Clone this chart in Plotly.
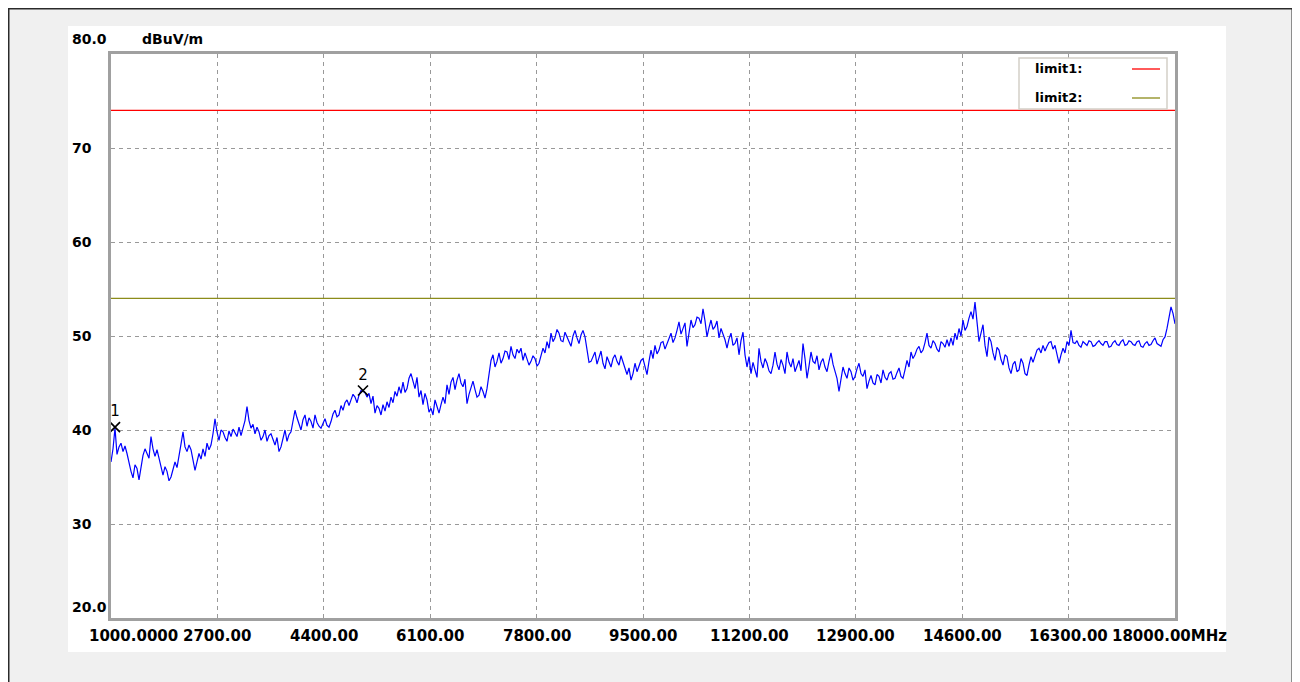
import plotly.graph_objects as go

# ---------------- data ----------------
F_START = 1000.0
F_STOP = 18000.0
level_dbuv = [
    # 1000 - ~4300 MHz
    36.6, 38.0, 40.2, 37.4, 38.2, 38.6, 37.7, 38.3, 37.5, 36.4,
    35.6, 34.9, 36.3, 35.9, 34.7, 36.0, 37.3, 38.0, 37.5, 37.0,
    39.3, 38.0, 37.2, 37.9, 37.0, 36.2, 35.2, 36.1, 35.6, 34.6,
    35.0, 35.8, 36.6, 36.0, 37.5, 38.5, 39.8, 38.2, 37.7, 38.4,
    37.9, 36.8, 35.7, 36.6, 37.5, 36.9, 38.0, 37.2, 38.6, 37.9,
    38.4, 39.6, 41.2, 39.8, 38.9, 40.0, 39.8, 39.2, 38.8, 39.9,
    39.3, 40.1, 39.6, 39.3, 40.3, 39.4, 40.2, 41.0, 42.5, 41.0,
    40.2, 40.6, 39.6, 40.3, 39.8, 38.9, 39.3, 40.0, 38.8, 39.4,
    39.6, 38.9, 38.4, 39.2, 37.7, 38.2, 39.1, 40.0, 38.8, 39.5,
    39.8, 41.0, 42.1, 41.3, 40.7, 40.0, 41.1, 41.6, 40.4, 41.3,
    40.9, 40.2, 41.6, 40.8, 40.4, 40.2,
    # ~4300 - ~7600 MHz
    40.7, 41.2, 40.5, 40.3, 40.9, 41.7, 42.1, 41.4, 41.6, 42.6,
    42.1, 42.9, 43.2, 42.6, 43.2, 43.8, 43.5, 42.9, 43.7, 44.2,
    44.1, 44.0, 43.5, 43.9, 42.8, 43.6, 41.8, 42.6, 42.3, 41.6,
    42.7, 42.0, 43.0, 42.4, 43.5, 42.9, 44.1, 43.6, 44.6, 43.9,
    45.1, 44.0, 44.4, 45.5, 46.0, 45.2, 44.4, 45.6, 43.5, 44.2,
    42.7, 43.9, 43.2, 41.9, 42.3, 41.6, 43.2, 42.5, 41.8, 42.7,
    43.5, 42.8, 44.8, 43.8, 45.1, 45.6, 44.3, 45.3, 46.0, 45.0,
    44.6, 45.4, 42.8, 43.8, 44.6, 45.2, 44.3, 43.5, 43.7, 44.6,
    44.1, 43.4, 44.4, 45.8, 47.4, 48.0, 46.7, 47.3, 48.2, 47.1,
    47.6, 48.4, 48.3, 47.5, 48.9, 48.0, 47.6, 48.6, 48.2, 48.7,
    47.4, 48.2,
    # ~7600 - ~11000 MHz
    47.6, 46.9, 47.3, 47.9, 47.6, 46.8, 47.1, 48.0, 48.7, 48.2,
    49.4, 48.7, 50.3, 49.4, 49.8, 50.7, 50.3, 49.5, 49.4, 50.4,
    49.9, 49.6, 48.9, 50.0, 50.6, 49.8, 49.2, 50.1, 50.6, 49.9,
    48.5, 47.2, 47.3, 47.9, 48.3, 47.0, 47.6, 48.4, 47.1, 46.5,
    47.8, 47.2, 46.7, 47.6, 48.0, 47.3, 46.9, 47.9, 47.3, 46.6,
    45.9, 46.6, 45.3, 46.0, 47.1, 46.2, 46.7, 47.4, 47.6, 46.8,
    45.9, 47.3, 48.5, 47.6, 49.0, 48.1, 48.5, 49.3, 49.4, 48.6,
    49.2, 49.9, 50.3, 49.3, 49.8, 50.6, 51.5, 50.2, 50.8, 51.4,
    48.9, 50.6, 51.7, 50.9, 51.2, 52.0, 51.9, 51.3, 52.9, 51.6,
    49.9, 50.9, 51.7, 50.7, 51.0, 51.6, 49.8, 50.8, 50.3, 49.6,
    48.7, 49.7, 50.3, 49.0, 49.2, 49.8, 48.0, 49.5,
    # ~11000 - ~14300 MHz
    50.4, 48.0, 46.7, 47.8, 46.0, 47.2, 46.4, 45.6, 48.7, 47.3,
    46.6, 47.6, 47.1, 46.3, 46.0, 46.9, 48.3, 47.0, 46.4, 47.5,
    46.9, 46.0, 48.3, 47.2, 46.7, 47.6, 46.2, 46.9, 47.4, 46.3,
    49.2, 47.6, 45.5, 46.8, 48.3, 47.3, 47.1, 47.9, 46.4, 47.2,
    47.6, 46.7, 46.2, 47.3, 48.2, 47.0, 46.2, 45.5, 44.1, 45.2,
    46.7, 46.0, 45.5, 46.6, 46.2, 45.3, 45.7, 46.5, 47.1, 46.0,
    45.7, 46.4, 44.4, 45.2, 45.8, 45.0, 44.8, 45.9, 45.7, 45.0,
    46.4, 45.6, 45.3, 46.0, 46.2, 45.4, 45.5, 46.1, 46.6, 45.7,
    45.5, 46.4, 47.4, 46.7, 48.3, 47.6, 48.0, 48.6, 48.9, 48.2,
    48.5, 49.3, 50.3, 49.0, 48.7, 49.5, 49.2, 48.6, 48.3, 49.4,
    49.2, 48.8, 49.6, 48.9,
    # ~14300 - 18000 MHz
    49.8, 49.0, 50.3, 49.6, 50.8, 50.0, 51.7, 50.6, 51.0, 51.9,
    52.6, 51.8, 53.6, 51.5, 49.4, 50.3, 51.2, 49.0, 47.8, 49.9,
    49.4, 48.2, 47.4, 48.8, 48.5, 47.5, 46.9, 48.0, 47.8, 46.6,
    46.0, 47.0, 47.3, 46.2, 46.4, 47.6, 47.1, 46.0, 45.8, 46.9,
    47.8, 47.2, 48.0, 48.5, 48.7, 48.2, 49.0, 48.4, 48.9, 49.3,
    49.4, 48.6, 49.0, 48.2, 47.1, 48.0, 48.7, 48.2, 49.4, 49.0,
    50.6, 49.3, 49.2, 49.5, 49.0, 48.8, 49.4, 49.2, 49.0, 49.5,
    49.4, 48.9, 49.0, 49.3, 49.5, 49.2, 49.0, 49.4, 49.4, 48.8,
    48.9, 49.3, 49.5, 49.1, 49.0, 49.4, 49.6, 49.0, 49.1, 49.5,
    49.4, 49.1, 49.0, 49.4, 49.5, 48.9, 48.8, 49.2, 49.4, 49.0,
    49.1, 49.5, 49.8, 49.2, 49.0, 48.9, 49.6, 49.9, 50.8, 52.2,
    53.1, 52.4, 51.3,
]
N_PTS = len(level_dbuv)
STEP = (F_STOP - F_START) / (N_PTS - 1)
freq_mhz = [F_START + k * STEP for k in range(N_PTS)]

limit1_db = 74.0
limit2_db = 54.0

marker_freq = [1064.0, 5026.0]
marker_level = [40.3, 44.2]
marker_text = ["1", "2"]

x_tick_vals = [1000, 2700, 4400, 6100, 7800, 9500, 11200, 12900, 14600, 16300, 18000]
x_tick_text = ["1000.0000", "2700.00", "4400.00", "6100.00", "7800.00", "9500.00",
               "11200.00", "12900.00", "14600.00", "16300.00", "18000.00MHz"]
y_tick_vals = [80, 70, 60, 50, 40, 30, 20]
y_tick_text = ["80.0", "70", "60", "50", "40", "30", "20.0"]
y_unit = "dBuV/m"
legend_names = ["limit1:", "limit2:"]

# ---------------- geometry (page pixels; figure div starts at page (8, 8)) ----------------
OFF = 8
FW, FH = 1286, 674
L, R, T, B = 111, 1175, 54, 618          # plot area in page pixels
PW, PH = R - L, B - T


def px(x):
    return (x - L) / PW


def py(y):
    return (B - y) / PH


FONT = "DejaVu Sans"
fig = go.Figure()

fig.add_trace(go.Scatter(x=[F_START, F_STOP], y=[limit1_db, limit1_db], mode="lines",
                         line=dict(color="#ff0000", width=1.3), hoverinfo="skip", showlegend=False))
fig.add_trace(go.Scatter(x=[F_START, F_STOP], y=[limit2_db, limit2_db], mode="lines",
                         line=dict(color="#8c8c1a", width=1.3), hoverinfo="skip", showlegend=False))
fig.add_trace(go.Scatter(x=freq_mhz, y=level_dbuv, mode="lines",
                         line=dict(color="#0000ff", width=1.2), showlegend=False))
fig.add_trace(go.Scatter(x=marker_freq, y=marker_level, mode="markers+text",
                         text=marker_text, textposition="top center",
                         textfont=dict(family=FONT, size=15, color="black"),
                         marker=dict(symbol="x-thin", size=10, color="black",
                                     line=dict(color="black", width=1.7)),
                         cliponaxis=False, showlegend=False))

shapes = [
    # outer window frame
    dict(type="rect", xref="paper", yref="paper", x0=px(8.5), x1=px(1292.5), y0=py(760), y1=py(8.5),
         line=dict(color="#2a2a2a", width=2), fillcolor="rgba(0,0,0,0)", layer="below"),
    # white panel
    dict(type="rect", xref="paper", yref="paper", x0=px(68), x1=px(1226), y0=py(652), y1=py(26),
         line=dict(width=0), fillcolor="white", layer="below"),
    # legend box
    dict(type="rect", xref="paper", yref="paper", x0=px(1019), x1=px(1167), y0=py(109), y1=py(58),
         line=dict(color="#d4d0c8", width=1.5), fillcolor="white", layer="above"),
    dict(type="line", xref="paper", yref="paper", x0=px(1132), x1=px(1160), y0=py(69), y1=py(69),
         line=dict(color="#ff0000", width=1.3), layer="above"),
    dict(type="line", xref="paper", yref="paper", x0=px(1132), x1=px(1160), y0=py(98), y1=py(98),
         line=dict(color="#8c8c1a", width=1.3), layer="above"),
]

annotations = []
for v, t in zip(y_tick_vals, y_tick_text):
    shift = 0
    if v == 80:
        shift = 15
    elif v == 20:
        shift = 11
    annotations.append(dict(xref="paper", yref="y", x=px(70), y=v, yshift=shift, text=t,
                            showarrow=False, xanchor="left", yanchor="middle",
                            font=dict(family=FONT, size=14, color="black", weight="bold")))
annotations.append(dict(xref="paper", yref="y", x=px(140), y=80, yshift=15, text=y_unit,
                        showarrow=False, xanchor="left", yanchor="middle",
                        font=dict(family=FONT, size=14, color="black", weight="bold")))
for v, t in zip(x_tick_vals, x_tick_text):
    xa, xs = "center", 0
    if v == x_tick_vals[0]:
        xa, xs = "left", -24
    elif v == x_tick_vals[-1]:
        xs = -6
    annotations.append(dict(xref="x", yref="paper", x=v, y=0, xshift=xs, yshift=-18, text=t,
                            showarrow=False, xanchor=xa, yanchor="middle",
                            font=dict(family=FONT, size=15, color="black", weight="bold")))
for name, yy in zip(legend_names, [69, 97]):
    annotations.append(dict(xref="paper", yref="paper", x=px(1033), y=py(yy), text=name,
                            showarrow=False, xanchor="left", yanchor="middle",
                            font=dict(family=FONT, size=13, color="black", weight="bold")))

fig.update_layout(
    width=FW, height=FH,
    margin=dict(l=L - OFF, r=FW - (R - OFF), t=T - OFF, b=FH - (B - OFF), pad=0),
    paper_bgcolor="#f0f0f0", plot_bgcolor="white",
    shapes=shapes, annotations=annotations,
    xaxis=dict(range=[F_START, F_STOP], tickvals=x_tick_vals[1:-1], showticklabels=False,
               ticks="", showgrid=True, gridcolor="#999999", gridwidth=1, griddash="4px,4px",
               zeroline=False, showline=True, mirror=True, linecolor="#a0a0a0", linewidth=2.5,
               fixedrange=True),
    yaxis=dict(range=[20, 80], tickvals=[30, 40, 50, 60, 70], showticklabels=False,
               ticks="", showgrid=True, gridcolor="#999999", gridwidth=1, griddash="4px,4px",
               zeroline=False, showline=True, mirror=True, linecolor="#a0a0a0", linewidth=2.5,
               fixedrange=True),
    hovermode=False,
)

fig.write_html("out.html")
